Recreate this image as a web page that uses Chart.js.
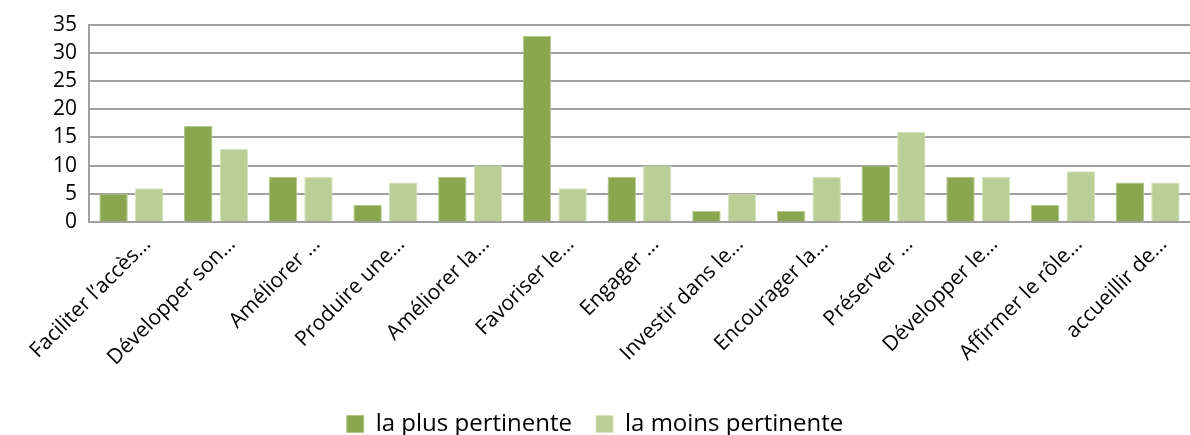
<!DOCTYPE html>
<html>
<head>
<meta charset="utf-8">
<script src="https://cdn.jsdelivr.net/npm/chart.js@4/dist/chart.umd.min.js"></script>
<style>
  html, body { margin: 0; padding: 0; background: #fff; }
  #wrap { width: 1190px; height: 435px; }
</style>
</head>
<body>
<div id="wrap"><canvas id="chart"></canvas></div>
<script>
const categories = [
  "Faciliter l’accès…", "Développer son…", "Améliorer …", "Produire une…",
  "Améliorer la…", "Favoriser le…", "Engager …", "Investir dans le…",
  "Encourager la…", "Préserver …", "Développer le…", "Affirmer le rôle…",
  "accueillir de…"
];
const plusPertinente = [5, 17, 8, 3, 8, 33, 8, 2, 2, 10, 8, 3, 7];
const moinsPertinente = [6, 13, 8, 7, 10, 6, 10, 5, 8, 16, 8, 9, 7];
const yTicks = [0, 5, 10, 15, 20, 25, 30, 35];

const FONT = "'Open Sans', Lato, sans-serif";

new Chart(document.getElementById("chart"), {
  type: "bar",
  data: {
    labels: categories,
    datasets: [
      {
        label: "la plus pertinente",
        data: plusPertinente,
        backgroundColor: "#8aa64f",
        borderColor: "#b3c98a",
        borderWidth: 1
      },
      {
        label: "la moins pertinente",
        data: moinsPertinente,
        backgroundColor: "#b9cf96",
        borderColor: "#d4e2bd",
        borderWidth: 1
      }
    ]
  },
  options: {
    responsive: true,
    maintainAspectRatio: false,
    animation: false,
    layout: { padding: { top: 16, right: 0, left: 0, bottom: -11 } },
    datasets: { bar: { categoryPercentage: 0.84, barPercentage: 0.8 } },
    scales: {
      x: {
        afterFit: s => { s.height = 166; },
        grid: { display: false, drawTicks: false },
        border: { color: "#a0a0a0", width: 2 },
        ticks: {
          color: "#000",
          font: { family: FONT, size: 21 },
          maxRotation: 45,
          minRotation: 45,
          padding: 10,
          labelOffset: 16,
          autoSkip: false
        }
      },
      y: {
        min: 0,
        max: 35,
        afterFit: s => { s.width = 89; },
        afterBuildTicks: s => { s.ticks = yTicks.map(v => ({ value: v })); },
        grid: { color: "#a0a0a0", lineWidth: 2, drawTicks: false },
        border: { color: "#a0a0a0", width: 2 },
        ticks: {
          color: "#000",
          font: { family: FONT, size: 21 },
          padding: 12,
          autoSkip: false
        }
      }
    },
    plugins: {
      legend: {
        position: "bottom",
        labels: {
          color: "#000",
          font: { family: FONT, size: 24 },
          boxWidth: 17,
          boxHeight: 17,
          padding: 24
        }
      },
      tooltip: { enabled: false }
    }
  }
});
</script>
</body>
</html>
